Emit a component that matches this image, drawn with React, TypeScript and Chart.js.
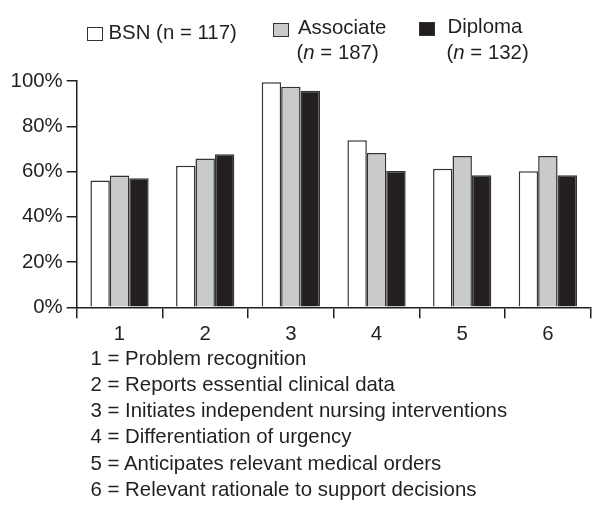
import React, { useEffect, useRef } from "react";
import { Chart, registerables } from "chart.js";

Chart.register(...registerables);

const categories = ["1", "2", "3", "4", "5", "6"];
const bsnValues = [56, 62.6, 99.4, 73.8, 61.2, 60.1];
const associateValues = [58.2, 65.7, 97.5, 68.2, 66.9, 66.9];
const diplomaValues = [57, 67.6, 95.7, 60.2, 58.3, 58.3];
const yTickValues = [0, 20, 40, 60, 80, 100];
const categoryDescriptions = [
  "1 = Problem recognition",
  "2 = Reports essential clinical data",
  "3 = Initiates independent nursing interventions",
  "4 = Differentiation of urgency",
  "5 = Anticipates relevant medical orders",
  "6 = Relevant rationale to support decisions",
];

const FONT = '"Liberation Sans", Arial, Helvetica, sans-serif';
const FS = 20.4;
const INK = "#231f20";
const EDGE = "#333333";
const WHITE = "#ffffff";
const GRAY = "#c9cacc";
const BLACK = "#231f20";

export default function App() {
  const canvasRef = useRef<HTMLCanvasElement | null>(null);

  useEffect(() => {
    const canvas = canvasRef.current;
    if (!canvas) return;
    const chart = new Chart(canvas, {
      type: "bar",
      data: {
        labels: categories,
        datasets: [
          { label: "BSN", data: bsnValues, backgroundColor: WHITE, borderColor: EDGE, borderWidth: 1.5, borderSkipped: "start" },
          { label: "Associate", data: associateValues, backgroundColor: GRAY, borderColor: EDGE, borderWidth: 1.5, borderSkipped: "start" },
          { label: "Diploma", data: diplomaValues, backgroundColor: BLACK, borderColor: EDGE, borderWidth: 1.5, borderSkipped: "start" },
        ],
      },
      options: {
        responsive: false,
        animation: false,
        devicePixelRatio: 1,
        datasets: { bar: { categoryPercentage: 0.68, barPercentage: 1 } },
        layout: { padding: { left: 0, right: 10.3, top: 81, bottom: 508 - 307.3 - 40 } },
        plugins: { legend: { display: false }, tooltip: { enabled: false }, title: { display: false } },
        scales: {
          x: {
            afterFit: (s: any) => { s.height = 40; },
            grid: { offset: true, drawOnChartArea: false, drawTicks: true, tickLength: 11, color: INK, lineWidth: 1.5 },
            border: { display: true, color: INK, width: 1.5 },
            ticks: { color: INK, font: { family: FONT, size: FS }, padding: 4, maxRotation: 0 },
          },
          y: {
            min: 0,
            max: 100,
            afterFit: (s: any) => { s.width = 76.7; },
            afterBuildTicks: (s: any) => { s.ticks = yTickValues.map((v) => ({ value: v })); },
            grid: { drawOnChartArea: false, drawTicks: true, tickLength: 10, color: INK, lineWidth: 1.5 },
            border: { display: true, color: INK, width: 1.5 },
            ticks: { color: INK, font: { family: FONT, size: FS }, padding: 4, callback: (v: any) => v + "%" },
          },
        },
      },
    });
    return () => chart.destroy();
  }, []);

  const textStyle: React.CSSProperties = {
    position: "absolute",
    fontFamily: FONT,
    fontSize: FS,
    lineHeight: "20px",
    color: INK,
    whiteSpace: "nowrap",
  };
  const box = (left: number, top: number, bg: string): React.CSSProperties => ({
    position: "absolute",
    left,
    top,
    width: 16,
    height: 14,
    boxSizing: "border-box",
    border: `1.5px solid ${EDGE}`,
    background: bg,
  });

  return (
    <div style={{ position: "fixed", left: 0, top: 0, width: 601, height: 508, background: "#fff", overflow: "hidden" }}>
      <canvas ref={canvasRef} width={601} height={508} style={{ position: "absolute", left: 0, top: 0, width: 601, height: 508 }} />
      <div style={box(86.7, 27, WHITE)} />
      <div style={{ ...textStyle, left: 108.5, top: 22.2 }}>BSN (n = 117)</div>
      <div style={box(272.7, 22.5, GRAY)} />
      <div style={{ ...textStyle, left: 298, top: 16.6 }}>Associate</div>
      <div style={{ ...textStyle, left: 296.5, top: 41.6 }}>(<i>n</i> = 187)</div>
      <div style={box(418.5, 22, BLACK)} />
      <div style={{ ...textStyle, left: 447.5, top: 16.3 }}>Diploma</div>
      <div style={{ ...textStyle, left: 446.5, top: 41.8 }}>(<i>n</i> = 132)</div>
      <div style={{ position: "absolute", left: 90.5, top: 344.8, fontFamily: FONT, fontSize: FS, lineHeight: "26.2px", color: INK, whiteSpace: "nowrap" }}>
        {categoryDescriptions.map((d) => (
          <div key={d}>{d}</div>
        ))}
      </div>
    </div>
  );
}
